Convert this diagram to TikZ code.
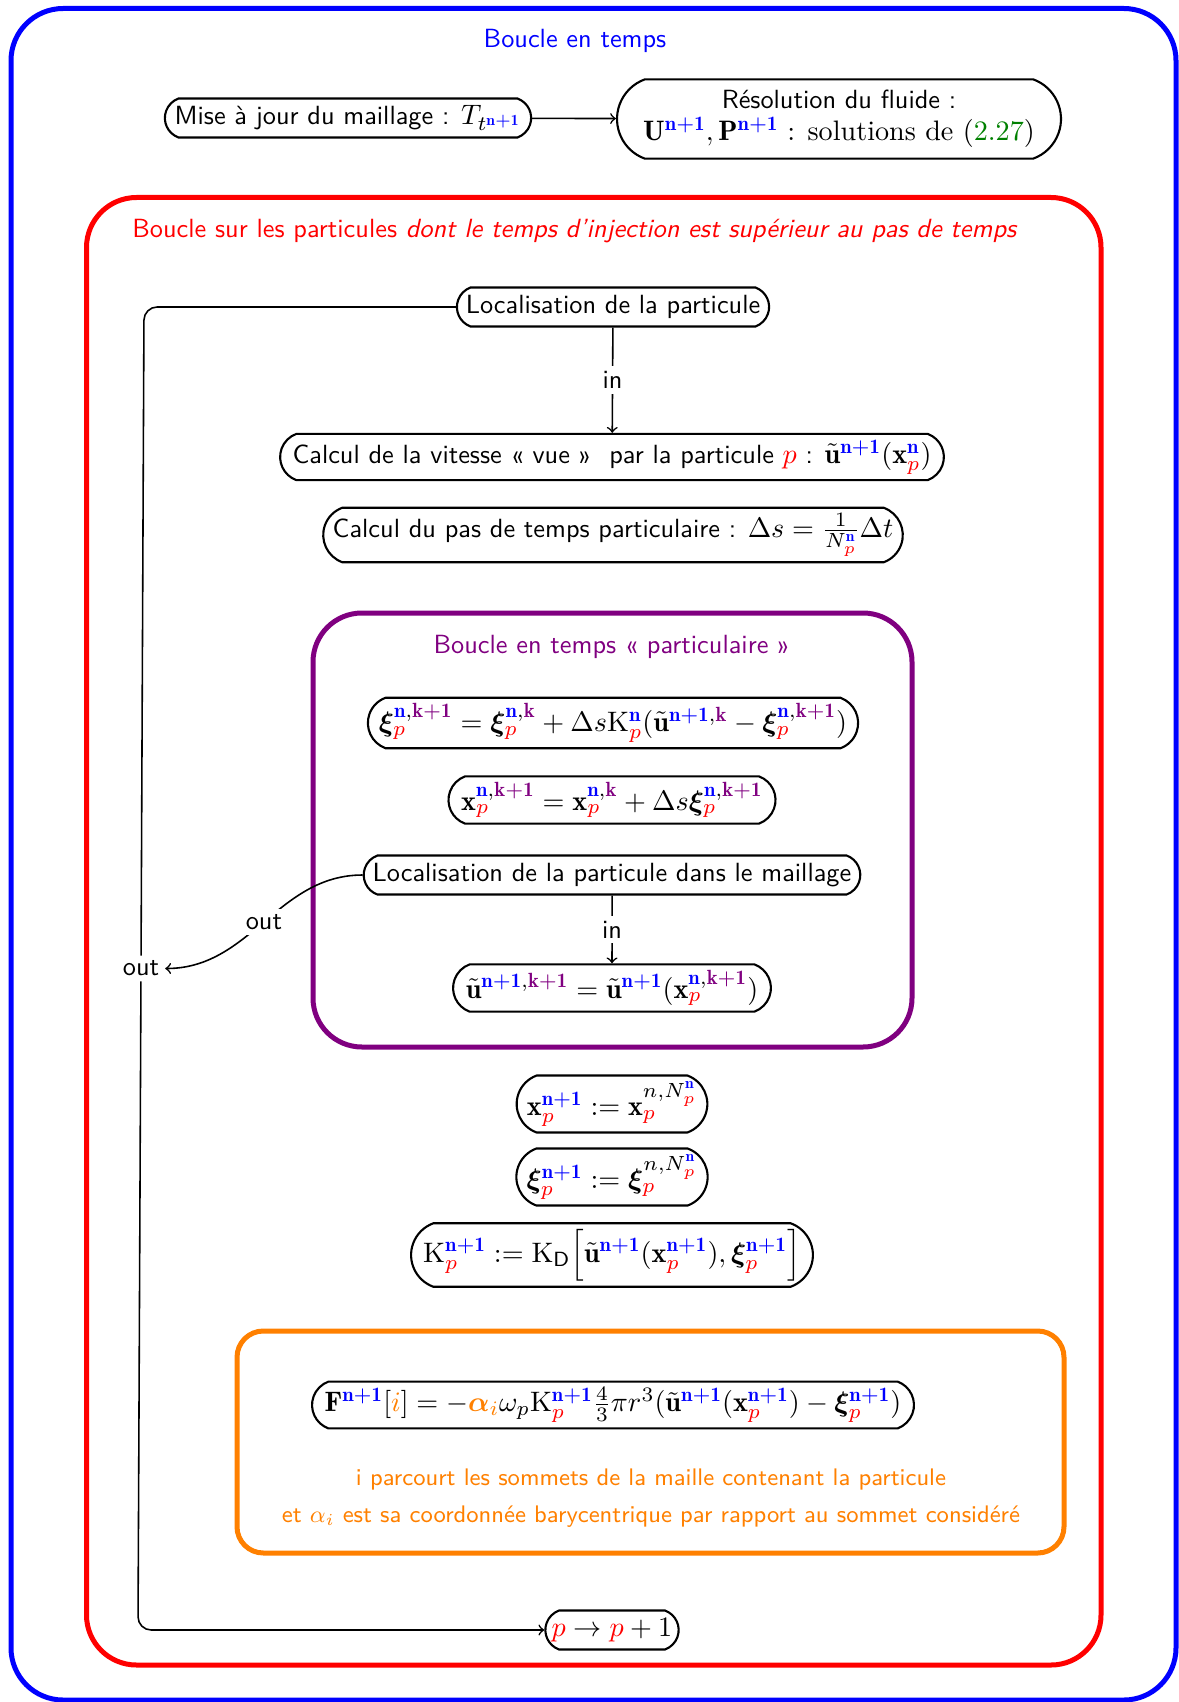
\RequirePackage{fix-cm}
\documentclass[tikz,border=0pt]{standalone}
\usepackage{fontspec}
\usepackage{amsmath}
\usepackage{bm}
\usepackage{xcolor}
\usepackage{tikz}
\usetikzlibrary{shapes.misc}

\DeclareMathSizes{10}{10.7}{7.8}{5.9}
\definecolor{vert}{rgb}{0,0.5,0}
\newcommand{\Nun}{{\color{blue}\mathbf{n+1}}}
\newcommand{\Nn}{{\color{blue}\mathbf{n}}}
\newcommand{\Kun}{{\color{violet}\mathbf{k+1}}}
\newcommand{\Kk}{{\color{violet}\mathbf{k}}}
\newcommand{\Pp}{{\color{red}p}}
\newcommand{\ut}{\tilde{\mathbf{u}}}
\newcommand{\bx}{\mathbf{x}}

\tikzset{
  etape/.style={draw,thick,rounded rectangle,rounded rectangle arc length=140,inner xsep=2pt,inner ysep=2.2pt,minimum height=14.8pt},
  etroite/.style={etape,inner xsep=0pt},
  cadre/.style={line width=1.9pt,rounded corners=#1},
  etiq/.style={fill=white,inner sep=2pt},
  note/.style={orange,font=\sffamily\fontsize{9.1}{11}\selectfont},
}

\begin{document}
\begin{tikzpicture}[x=0.38pt,y=-0.38pt,font=\sffamily]
        \useasboundingbox (0,0) rectangle (1179,1702);
        \draw[cadre=19.8pt,blue] (11,8.5) rectangle (1176,1700);
        \draw[cadre=19pt,red] (86.5,197.5) rectangle (1101,1665);
        \draw[cadre=18.6pt,violet] (313,613) rectangle (912,1047);
        \draw[cadre=10pt,orange] (237,1331) rectangle (1064,1553);

        \node[blue] (titreB) at (575,41) {Boucle en temps};
        \node[red] (titreR) at (575,231) {Boucle sur les particules \textit{dont le temps d'injection est supérieur au pas de temps}};
        \node[violet] (titreV) at (612,647) {Boucle en temps «~particulaire~»};

        \node[etape] (maj) at (348,118) {Mise à jour du maillage : $T_{t^{\Nun}}$};
        \node[etape,align=center,inner xsep=5.7pt,inner ysep=4.2pt] (fluide) at (839,119) {Résolution du fluide :\\ $\mathbf{U}^{\Nun},\mathbf{P}^{\Nun}$ {\fontsize{10.7}{13}\rmfamily : solutions de ({\color{vert}2.27})}};

        \node[etape] (loc) at (613,307) {Localisation de la particule};
        \node[etape] (vit) at (612,457) {Calcul de la vitesse «~vue~» ~par la particule $\Pp$ : $\ut^{\Nun}(\bx_{\Pp}^{\Nn})$};
        \node[etroite] (pas) at (613,535) {Calcul du pas de temps particulaire : $\Delta s=\frac{1}{N_{\Pp}^{\Nn}}\Delta t$};

        \node[etape,inner xsep=1pt] (xieq) at (613,723) {$\bm{\xi}_{\Pp}^{\Nn,\Kun}=\bm{\xi}_{\Pp}^{\Nn,\Kk}+\Delta s\mathrm{K}_{\Pp}^{\Nn}(\ut^{\Nun,\Kk}-\bm{\xi}_{\Pp}^{\Nn,\Kun})$};
        \node[etape] (xeq) at (612,800) {$\bx_{\Pp}^{\Nn,\Kun}=\bx_{\Pp}^{\Nn,\Kk}+\Delta s\bm{\xi}_{\Pp}^{\Nn,\Kun}$};
        \node[etape] (locm) at (612,875) {Localisation de la particule dans le maillage};
        \node[etape] (ueq) at (612,988) {$\ut^{\Nun,\Kun}=\ut^{\Nun}(\bx_{\Pp}^{\Nn,\Kun})$};

        \node[etroite] (xfin) at (612,1104) {$\bx_{\Pp}^{\Nun}:=\bx_{\Pp}^{n,N_{\Pp}^{\Nn}}$};
        \node[etroite] (xifin) at (612,1177) {$\bm{\xi}_{\Pp}^{\Nun}:=\bm{\xi}_{\Pp}^{n,N_{\Pp}^{\Nn}}$};
        \node[etroite] (kfin) at (612,1255) {$\mathrm{K}_{\Pp}^{\Nun}:=\mathrm{K}_{\mathsf{D}}\Big[\ut^{\Nun}(\bx_{\Pp}^{\Nun}),\bm{\xi}_{\Pp}^{\Nun}\Big]$};

        \node[etape] (force) at (613,1405) {$\mathbf{F}^{\Nun}[{\color{orange}i}]=-{\color{orange}\bm{\alpha}_i}\omega_p\mathrm{K}_{\Pp}^{\Nun}\frac{4}{3}\pi r^3(\ut^{\Nun}(\bx_{\Pp}^{\Nun})-\bm{\xi}_{\Pp}^{\Nun})$};
        \node[note] (texteA) at (651,1479) {i parcourt les sommets de la maille contenant la particule};
        \node[note] (texteB) at (651,1517) {et $\alpha_i$ est sa coordonnée barycentrique par rapport au sommet considéré};

        \node[etape,inner xsep=1pt] (incr) at (612,1630) {$\Pp\to\Pp+1$};

        \coordinate (hautG) at (144,307);
        \coordinate (basG) at (138,1630);
        \begin{scope}[->,semithick]
            \draw (maj) -- (fluide);
            \draw (loc) -- node[etiq] {in} (vit);
            \draw (locm) -- node[etiq] {in} (ueq);
            \draw[rounded corners=5pt] (loc.west) -- (hautG) -- node[etiq] (sortie) {out} (basG) -- (incr.west);
            \draw (locm.west) to[out=180,in=0] node[etiq] {out} (sortie.east);
        \end{scope}
    \end{tikzpicture}
\end{document}
